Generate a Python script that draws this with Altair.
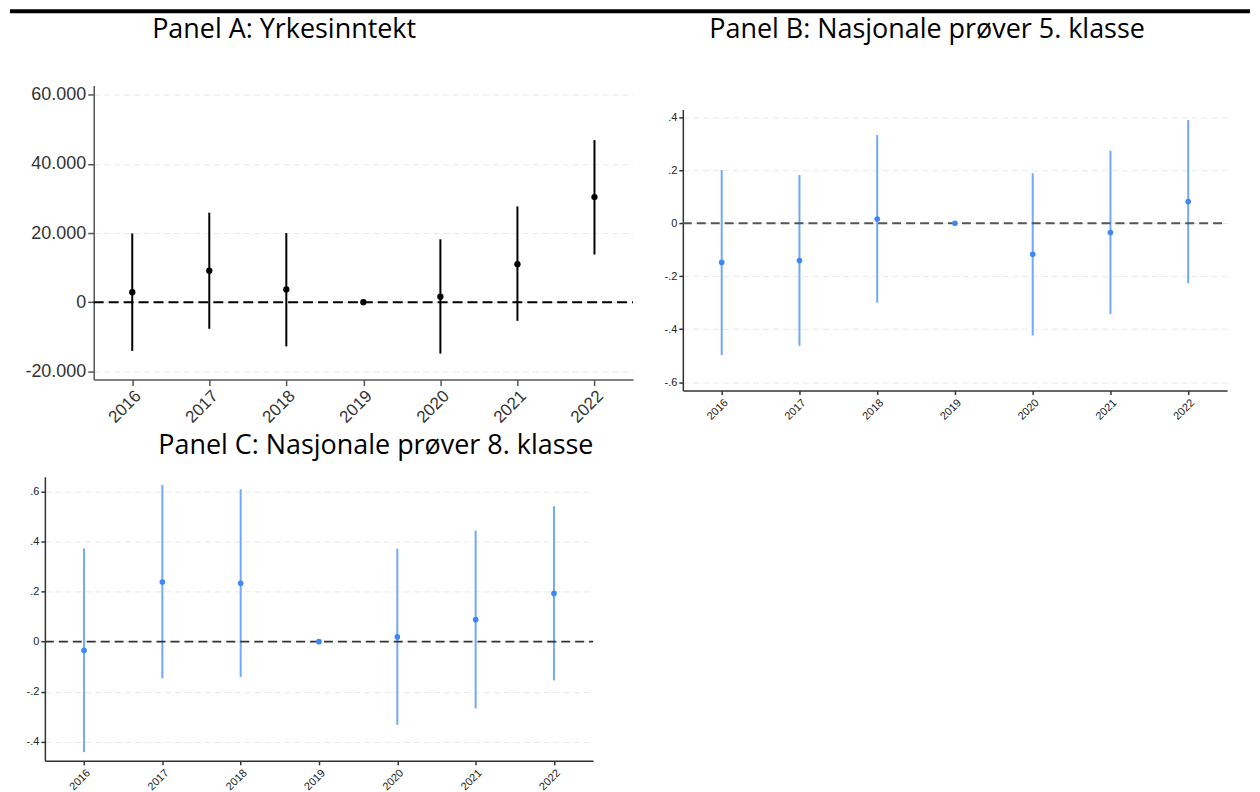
import altair as alt
import pandas as pd

years = [2016, 2017, 2018, 2019, 2020, 2021, 2022]
x_domain = [2015.5, 2022.5]

# Panel A: Yrkesinntekt
a_est = [2900, 9100, 3700, 0, 1600, 11000, 30400]
a_lo = [-14100, -7700, -12800, None, -14900, -5400, 13800]
a_hi = [19900, 25900, 20000, None, 18200, 27700, 46900]
a_ticks = [-20000, 0, 20000, 40000, 60000]

# Panel B: Nasjonale prøver 5. klasse
b_est = [-0.148, -0.141, 0.016, 0.0, -0.117, -0.035, 0.082]
b_lo = [-0.498, -0.463, -0.300, None, -0.424, -0.343, -0.227]
b_hi = [0.201, 0.182, 0.333, None, 0.189, 0.274, 0.390]
b_ticks = [-0.6, -0.4, -0.2, 0, 0.2, 0.4]

# Panel C: Nasjonale prøver 8. klasse
c_est = [-0.035, 0.239, 0.234, 0.0, 0.019, 0.088, 0.193]
c_lo = [-0.442, -0.147, -0.141, None, -0.333, -0.267, -0.155]
c_hi = [0.373, 0.627, 0.610, None, 0.372, 0.444, 0.542]
c_ticks = [-0.4, -0.2, 0, 0.2, 0.4, 0.6]

titles = ["Panel A: Yrkesinntekt",
          "Panel B: Nasjonale prøver 5. klasse",
          "Panel C: Nasjonale prøver 8. klasse"]

EXPR_THOUSANDS = ("datum.value == 0 ? '0' : (datum.value < 0 ? '-' : '') + "
                  "replace(format(abs(datum.value), ','), ',', '.')")
EXPR_STATA = ("datum.value == 0 ? '0' : (datum.value < 0 ? '-' : '') + "
              "replace(format(abs(datum.value), '.1f'), '0.', '.')")


def panel(title, est, lo, hi, ticks, *, width, height, xrange, yrange,
          ydomain, yoffset, label_expr, ylabel_size, xlabel_size, label_color,
          axis_color, axis_width, tick_size, zero_color, zero_width, zero_dash,
          bar_color, pt_color, pt_size, title_dx, title_offset, y_extent):
    df = pd.DataFrame({"year": years, "est": est, "lo": lo, "hi": hi})
    xscale = alt.Scale(domain=x_domain, nice=False, zero=False,
                       **({"range": xrange} if xrange else {}))
    xaxis = alt.Axis(title=None, values=years, format="d", labelAngle=315,
                     labelAlign="right", labelBaseline="top",
                     labelFontSize=xlabel_size, labelFont="Liberation Sans",
                     labelColor=label_color, labelPadding=2,
                     labelOverlap=False, labelFlush=False,
                     tickSize=tick_size, tickColor=axis_color,
                     tickWidth=axis_width, domainColor=axis_color,
                     domainWidth=axis_width, grid=False)
    yscale = alt.Scale(domain=ydomain, nice=False, zero=False,
                       **({"range": yrange} if yrange else {}))
    yaxis = alt.Axis(title=None, values=ticks, labelExpr=label_expr,
                     labelFontSize=ylabel_size, labelFont="Liberation Sans",
                     labelColor=label_color, labelPadding=2,
                     labelOverlap=False, labelFlush=False,
                     tickSize=tick_size, tickColor=axis_color,
                     tickWidth=axis_width, domainColor=axis_color,
                     domainWidth=axis_width, grid=True, gridColor="#e8e8e8",
                     gridDash=[6, 4], gridWidth=1, offset=yoffset,
                     minExtent=y_extent, maxExtent=y_extent)
    xenc = alt.X("year:Q", scale=xscale, axis=xaxis)
    bars = alt.Chart(df).transform_filter("isValid(datum.lo)").mark_rule(
        color=bar_color, strokeWidth=2
    ).encode(x=xenc, y=alt.Y("lo:Q", scale=yscale, axis=yaxis), y2="hi:Q")
    zero_df = pd.DataFrame({"x1": [x_domain[0]], "x2": [x_domain[1]], "v": [0]})
    zero = alt.Chart(zero_df).mark_rule(
        color=zero_color, strokeWidth=zero_width, strokeDash=zero_dash
    ).encode(x=alt.X("x1:Q", scale=xscale, axis=xaxis), x2="x2:Q",
             y=alt.Y("v:Q", scale=yscale, axis=yaxis))
    pts = alt.Chart(df).mark_circle(color=pt_color, size=pt_size, opacity=1).encode(
        x=xenc, y=alt.Y("est:Q", scale=yscale, axis=yaxis)
    )
    return alt.layer(bars, zero, pts).properties(
        width=width, height=height,
        title=alt.TitleParams(text=title, font="Open Sans", fontSize=27,
                              fontWeight="normal", color="black",
                              anchor="middle", frame="group", dx=title_dx,
                              offset=title_offset),
    )


BLUE_LINE = "#72a8f7"
BLUE_PT = "#3f87f7"

pA = panel(titles[0], a_est, a_lo, a_hi, a_ticks, width=590, height=295,
           xrange=[49, 590], yrange=None, ydomain=[-22400, 62700], yoffset=-49,
           label_expr=EXPR_THOUSANDS, ylabel_size=18, xlabel_size=17,
           label_color="#333333", axis_color="#555555", axis_width=1.5,
           tick_size=6, zero_color="black", zero_width=2, zero_dash=[10, 5],
           bar_color="black", pt_color="black", pt_size=40,
           title_dx=-55, title_offset=41.5, y_extent=84)

pB = panel(titles[1], b_est, b_lo, b_hi, b_ticks, width=546, height=306,
           xrange=None, yrange=[306, 24], ydomain=[-0.632, 0.43], yoffset=0,
           label_expr=EXPR_STATA, ylabel_size=11, xlabel_size=11,
           label_color="#222222", axis_color="#333333", axis_width=1.5,
           tick_size=4, zero_color="#555555", zero_width=2, zero_dash=[9, 5],
           bar_color=BLUE_LINE, pt_color=BLUE_PT, pt_size=32,
           title_dx=-28, title_offset=41.5, y_extent=30)

pC = panel(titles[2], c_est, c_lo, c_hi, c_ticks, width=550, height=285,
           xrange=None, yrange=None, ydomain=[-0.477, 0.66], yoffset=0,
           label_expr=EXPR_STATA, ylabel_size=11, xlabel_size=11,
           label_color="#222222", axis_color="#333333", axis_width=1.5,
           tick_size=4, zero_color="#333333", zero_width=1.6, zero_dash=[9, 5],
           bar_color=BLUE_LINE, pt_color=BLUE_PT, pt_size=32,
           title_dx=57, title_offset=16.5, y_extent=35)

topline = alt.Chart(pd.DataFrame({"v": [0]})).mark_rule(
    color="black", strokeWidth=4
).encode(x=alt.value(-35), x2=alt.value(1209), y=alt.value(0)).properties(
    width=1, height=1
)

row1 = alt.concat(pA, pB, columns=2, spacing=19)
inner = alt.concat(row1, pC, columns=1, spacing=5.5)
chart = alt.concat(topline, inner, columns=1, spacing=2.5).properties(
    padding=0, background="white"
).configure_view(stroke=None)

chart.save("out.html", embed_options={"renderer": "svg", "actions": False})
